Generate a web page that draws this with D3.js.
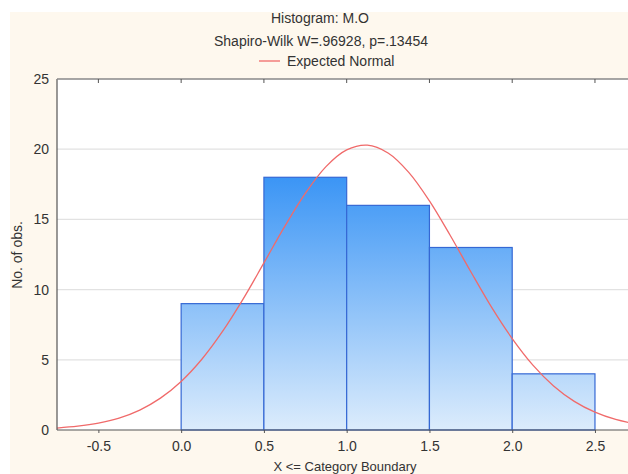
<!DOCTYPE html>
<html><head><meta charset="utf-8">
<script src="https://cdn.jsdelivr.net/npm/d3@7"></script>
<style>html,body{margin:0;padding:0;background:#fff;overflow:hidden}</style>
</head><body>
<svg id="c" width="628" height="474"></svg>
<script>
// Data
const binStarts = [0.0, 0.5, 1.0, 1.5, 2.0];
const binEnds   = [0.5, 1.0, 1.5, 2.0, 2.5];
const counts    = [9, 18, 16, 13, 4];
const curveX = [-0.75,-0.625,-0.5,-0.375,-0.25,-0.125,0,0.125,0.25,0.375,0.5,0.625,0.75,0.875,1.0,1.125,1.25,1.375,1.5,1.625,1.75,1.875,2.0,2.125,2.25,2.375,2.5,2.625,2.75];
const curveY = [0.14,0.27,0.49,0.85,1.42,2.27,3.46,5.04,7.02,9.34,11.90,14.48,16.85,18.76,19.95,20.29,19.73,18.35,16.32,13.87,11.27,8.75,6.51,4.62,3.14,2.04,1.27,0.75,0.43];
const xTicks = [-0.5, 0.0, 0.5, 1.0, 1.5, 2.0, 2.5];
const yTicks = [0, 5, 10, 15, 20, 25];
const titleText = "Histogram: M.O";
const subtitleText = "Shapiro-Wilk W=.96928, p=.13454";
const legendText = "Expected Normal";

const svg = d3.select("#c");
const font = "'Liberation Sans', Arial, sans-serif";
svg.append("rect").attr("x",10).attr("y",12).attr("width",628).attr("height",474).attr("fill","#fef8ee");

const L = 57, T = 79, B = 430;
const x = d3.scaleLinear().domain([-0.75, 2.75]).range([L, 181.5 + 2.75*165.4]);
const y = d3.scaleLinear().domain([0, 25]).range([B, T]);
const R = x(2.75);

svg.append("rect").attr("x",L).attr("y",T).attr("width",R-L).attr("height",B-T).attr("fill","#fff");

// gridlines
svg.append("g").selectAll("line").data(yTicks.filter(d=>d>0 && d<25)).join("line")
  .attr("x1",L).attr("x2",R).attr("y1",d=>y(d)).attr("y2",d=>y(d))
  .attr("stroke","#e2e2e2").attr("stroke-width",1.2);

// gradient
const defs = svg.append("defs");
const g = defs.append("linearGradient").attr("id","bg").attr("gradientUnits","userSpaceOnUse")
  .attr("x1",0).attr("x2",0).attr("y1",y(18)).attr("y2",B);
g.append("stop").attr("offset","0%").attr("stop-color","#3b95f5");
g.append("stop").attr("offset","100%").attr("stop-color","#dcecfc");

const bars = binStarts.map((s,i)=>({s, e:binEnds[i], c:counts[i]}));
svg.append("g").selectAll("rect").data(bars).join("rect")
  .attr("x",d=>x(d.s)).attr("y",d=>y(d.c))
  .attr("width",d=>x(d.e)-x(d.s)).attr("height",d=>B-y(d.c))
  .attr("fill","url(#bg)").attr("stroke","#3568d4").attr("stroke-width",1.2);

// curve
const pts = curveX.map((v,i)=>[v, curveY[i]]);
svg.append("path").datum(pts)
  .attr("d", d3.line().x(d=>x(d[0])).y(d=>y(d[1])).curve(d3.curveCatmullRom))
  .attr("fill","none").attr("stroke","#f06a6a").attr("stroke-width",1.3);

// frame
svg.append("line").attr("x1",L).attr("x2",L).attr("y1",T).attr("y2",B).attr("stroke","#555").attr("stroke-width",1.2);
svg.append("line").attr("x1",L).attr("x2",R).attr("y1",B).attr("y2",B).attr("stroke","#555").attr("stroke-width",1.2);
svg.append("line").attr("x1",L).attr("x2",R).attr("y1",T).attr("y2",T).attr("stroke","#888").attr("stroke-width",1.5);

// x axis
const xa = svg.append("g").attr("transform",`translate(0,${B})`)
  .call(d3.axisBottom(x).tickValues(xTicks).tickFormat(d => d3.format(".1f")(d).replace("\u2212","-")).tickSize(3).tickSizeOuter(0));
xa.select(".domain").remove();
xa.selectAll("line").attr("stroke","#555");
xa.selectAll("text").attr("font-family",font).attr("font-size",14).attr("fill","#333").attr("dy","1.05em");
// top ticks
svg.append("g").selectAll("line").data(xTicks).join("line")
  .attr("x1",d=>x(d)).attr("x2",d=>x(d)).attr("y1",T).attr("y2",T+4).attr("stroke","#555");

// y axis
const ya = svg.append("g").attr("transform",`translate(${L},0)`)
  .call(d3.axisLeft(y).tickValues(yTicks).tickSize(0).tickPadding(8));
ya.select(".domain").remove();
ya.selectAll("text").attr("font-family",font).attr("font-size",14).attr("fill","#333");

// titles
const txt = (xx,yy,s,size) => svg.append("text").attr("x",xx).attr("y",yy).attr("text-anchor","middle")
  .attr("font-family",font).attr("font-size",size).attr("fill","#333").text(s);
txt(320,23,titleText,14);
txt(321,46,subtitleText,14);
svg.append("line").attr("x1",259).attr("x2",280).attr("y1",61).attr("y2",61).attr("stroke","#f06a6a").attr("stroke-width",1.3);
svg.append("text").attr("x",287).attr("y",66).attr("font-family",font).attr("font-size",14).attr("fill","#333").text(legendText);

txt(345,471,"X <= Category Boundary",13);
svg.append("text").attr("transform","translate(22,255) rotate(-90)").attr("text-anchor","middle")
  .attr("font-family",font).attr("font-size",14).attr("fill","#333").text("No. of obs.");
</script>
</body></html>
